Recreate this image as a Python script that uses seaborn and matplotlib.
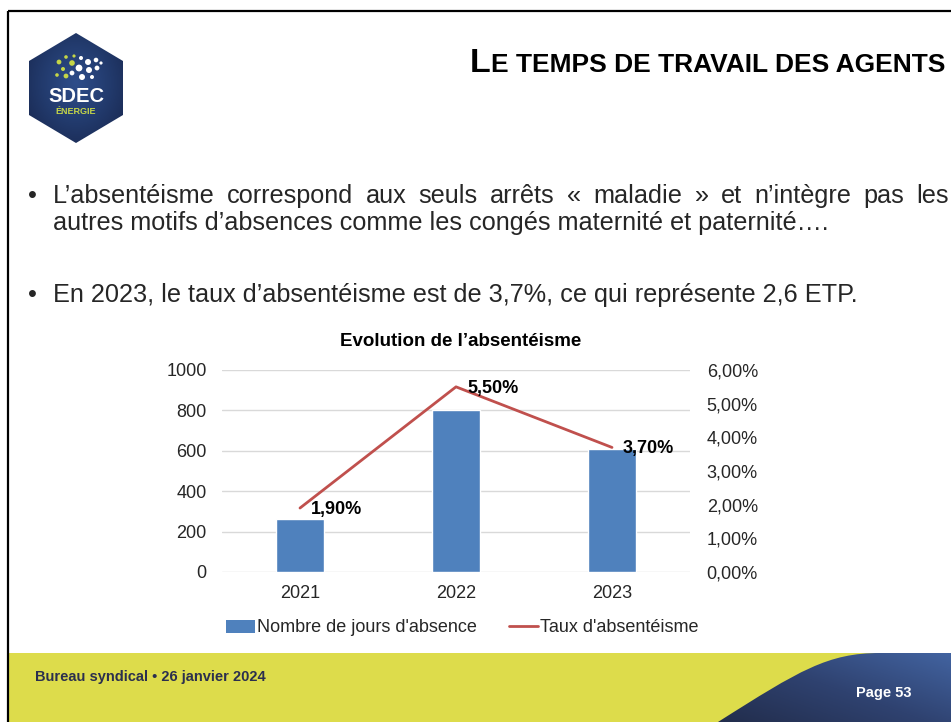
import numpy as np
import pandas as pd
import matplotlib
matplotlib.use("Agg")
import matplotlib.pyplot as plt
import seaborn as sns
from matplotlib.patches import Polygon, PathPatch, Circle, Patch, Rectangle
from matplotlib.path import Path
from matplotlib.lines import Line2D
from matplotlib.ticker import FuncFormatter, MultipleLocator

# --- chart data -------------------------------------------------------------
years = ["2021", "2022", "2023"]
jours_absence = [260, 800, 610]
taux_absenteisme = [1.90, 5.50, 3.70]  # en %

chart_title = "Evolution de l’absentéisme"
legend_bars = "Nombre de jours d'absence"
legend_line = "Taux d'absentéisme"

slide_title_first = "L"
slide_title_rest = "E TEMPS DE TRAVAIL DES AGENTS"
bullet_1 = ("L’absentéisme correspond aux seuls arrêts « maladie » "
            "et n’intègre pas les")
bullet_1b = "autres motifs d’absences comme les congés maternité et paternité…."
bullet_2 = "En 2023, le taux d’absentéisme est de 3,7%, ce qui représente 2,6 ETP."
footer_left = "Bureau syndical • 26 janvier 2024"
footer_right = "Page 53"

BAR_COLOR = "#4F81BD"
LINE_COLOR = "#C0504D"
YELLOW = "#DDDC4B"
NAVY_TXT = "#2B2F4E"
TXT = "#262626"

sns.set_theme(style="white")
SANS = ["Liberation Sans", "DejaVu Sans"]
plt.rcParams["font.family"] = SANS

W, H = 951, 722
fig = plt.figure(figsize=(W / 100, H / 100), dpi=100)
fig.patch.set_facecolor("white")
renderer = fig.canvas.get_renderer()

# full-page layer in pixel coordinates for the slide decoration
bg = fig.add_axes([0, 0, 1, 1], zorder=0)
bg.set_xlim(0, W)
bg.set_ylim(H, 0)
bg.axis("off")


def width_px(t):
    return t.get_window_extent(renderer=renderer).width


# slide frame
bg.plot([7.5, W], [11, 11], color="black", lw=1.6, solid_capstyle="butt")
bg.plot([7.5, 7.5], [11, H], color="black", lw=1.6, solid_capstyle="butt")

# footer band with the dark wedge
bg.add_patch(Rectangle((8.5, 653), W - 8.5, H - 653, color=YELLOW, lw=0, zorder=1))
wedge_path = Path(
    [(718, H), (800, 670), (828, 653), (880, 653), (W, 653), (W, H), (718, H)],
    [Path.MOVETO, Path.CURVE4, Path.CURVE4, Path.CURVE4, Path.LINETO,
     Path.LINETO, Path.CLOSEPOLY],
)
wedge = PathPatch(wedge_path, facecolor="none", edgecolor="none", zorder=2)
bg.add_patch(wedge)
gx, gy = np.meshgrid(np.linspace(0, 1, 200), np.linspace(0, 1, 60))
grad = 0.55 * gx + 0.45 * gy
wedge_cmap = matplotlib.colors.LinearSegmentedColormap.from_list(
    "wedge", ["#222D4C", "#2F4270", "#4263A0"])
im = bg.imshow(grad, cmap=wedge_cmap, extent=(718, W, 653, H), origin="upper",
               aspect="auto", zorder=2, interpolation="bilinear")
im.set_clip_path(wedge)

bg.text(35, 677, footer_left, fontsize=10.5, fontweight="bold", color=NAVY_TXT,
        va="center", ha="left", zorder=3)
bg.text(884, 693, footer_right, fontsize=10.5, fontweight="bold", color="white",
        va="center", ha="center", zorder=3)

# logo: navy hexagon, dots and lettering
hexagon = Polygon([(76, 33), (123, 61), (123, 115), (76, 143), (29, 115), (29, 61)],
                  closed=True, facecolor="none", edgecolor="none", zorder=2)
bg.add_patch(hexagon)
hx, hy = np.meshgrid(np.linspace(-1, 1, 120), np.linspace(-1, 1, 120))
rad = np.sqrt(hx ** 2 + (hy + 0.1) ** 2)
logo_cmap = matplotlib.colors.LinearSegmentedColormap.from_list(
    "logo", ["#2E4D8A", "#223A6C", "#17244A"])
im2 = bg.imshow(rad, cmap=logo_cmap, extent=(29, 123, 143, 33), aspect="auto",
                zorder=2, interpolation="bilinear")
im2.set_clip_path(hexagon)
green_dots = [(59, 62, 2.4), (66, 57, 1.8), (72, 63, 2.8), (63, 69, 2.0),
              (57, 75, 1.8), (66, 76, 2.4), (74, 56, 1.6)]
white_dots = [(81, 58, 2.0), (88, 62, 3.0), (96, 60, 2.3), (79, 68, 3.4),
              (89, 70, 3.0), (97, 68, 2.4), (72, 73, 2.4), (82, 77, 3.0),
              (92, 77, 2.0), (101, 63, 1.6)]
for cx, cy, r in green_dots:
    bg.add_patch(Circle((cx, cy), r, color="#C5D647", lw=0, zorder=3))
for cx, cy, r in white_dots:
    bg.add_patch(Circle((cx, cy), r, color="white", lw=0, zorder=3))
bg.text(76, 97, "SDEC", fontsize=14.5, fontweight="bold", color="white",
        ha="center", va="center", zorder=3)
bg.text(76, 112, "ÉNERGIE", fontsize=6.5, fontweight="bold", color="#C5D647",
        ha="center", va="center", zorder=3)

# slide title in small capitals, right aligned
t_rest = bg.text(945, 72, slide_title_rest, fontsize=19, fontweight="bold",
                 ha="right", va="baseline", color="black", zorder=3)
bg.text(945 - width_px(t_rest), 72, slide_title_first, fontsize=24.5,
        fontweight="bold", ha="right", va="baseline", color="black", zorder=3)

# bullet paragraphs; the font size is fitted on the last line
probe = bg.text(0, 0, bullet_2, fontsize=15)
body_size = 15 * 805 / width_px(probe)
probe.remove()

for yb in (203, 302):
    bg.text(28, yb, "•", fontsize=body_size, ha="left", va="baseline",
            color=TXT, zorder=3)

# first line is justified
words = bullet_1.split(" ")
word_artists = [bg.text(0, 203, w, fontsize=body_size, ha="left",
                        va="baseline", color=TXT, zorder=3) for w in words]
widths = [width_px(a) for a in word_artists]
left, right = 53, 949
gap = (right - left - sum(widths)) / (len(words) - 1)
xcur = left
for a, wdt in zip(word_artists, widths):
    a.set_x(xcur)
    xcur += wdt + gap

bg.text(53, 230, bullet_1b, fontsize=body_size, ha="left", va="baseline",
        color=TXT, zorder=3)
bg.text(53, 302, bullet_2, fontsize=body_size, ha="left", va="baseline",
        color=TXT, zorder=3)

# --- combined bar / line chart ---------------------------------------------
df = pd.DataFrame({"annee": years, "jours": jours_absence,
                   "taux": taux_absenteisme})

ax = fig.add_axes([222 / W, 1 - 572 / H, (690 - 222) / W, (572 - 370) / H],
                  zorder=2)
ax.patch.set_visible(False)
sns.barplot(data=df, x="annee", y="jours", color=BAR_COLOR, saturation=1,
            width=0.31, ax=ax, zorder=2)
ax.set_xlim(-0.5, 2.5)
ax.set_ylim(0, 1000)
ax.yaxis.set_major_locator(MultipleLocator(200))
ax.grid(axis="y", color="#D9D9D9", lw=1)
ax.grid(axis="x", visible=False)
ax.set_axisbelow(True)
ax.set_xlabel("")
ax.set_ylabel("")
ax.tick_params(axis="y", length=0, pad=11, labelsize=13, labelcolor=TXT)
ax.tick_params(axis="x", length=0, pad=9, labelsize=13, labelcolor=TXT)
for s in ax.spines.values():
    s.set_visible(False)

ax2 = ax.twinx()
sns.lineplot(data=df, x="annee", y="taux", color=LINE_COLOR, lw=2, ax=ax2,
             legend=False, zorder=3)
ax2.set_ylim(0, 6)
ax2.set_xlim(-0.5, 2.5)
ax2.yaxis.set_major_locator(MultipleLocator(1))
ax2.yaxis.set_major_formatter(
    FuncFormatter(lambda v, _: f"{v:.2f}%".replace(".", ",")))
ax2.set_ylabel("")
ax2.tick_params(axis="y", length=0, pad=12, labelsize=13, labelcolor=TXT)
for s in ax2.spines.values():
    s.set_visible(False)

for i, v in enumerate(taux_absenteisme):
    ax2.annotate(f"{v:.2f}%".replace(".", ","), xy=(i, v), xytext=(8, -1),
                 textcoords="offset points", ha="left", va="center",
                 fontsize=13, fontweight="bold", color="black", zorder=4)

bg.text(461, 341, chart_title, fontsize=13.5, fontweight="bold",
        ha="center", va="center", color="black", zorder=3)

handles = [Patch(facecolor=BAR_COLOR, edgecolor="none"),
           Line2D([0], [0], color=LINE_COLOR, lw=2)]
fig.legend(handles, [legend_bars, legend_line], loc="center",
           bbox_to_anchor=(462 / W, 1 - 628 / H), ncol=2, frameon=False,
           fontsize=13, handlelength=1.6, handletextpad=0.1,
           columnspacing=1.8, labelcolor=TXT)

fig.savefig("out.png", dpi=100, facecolor="white")
